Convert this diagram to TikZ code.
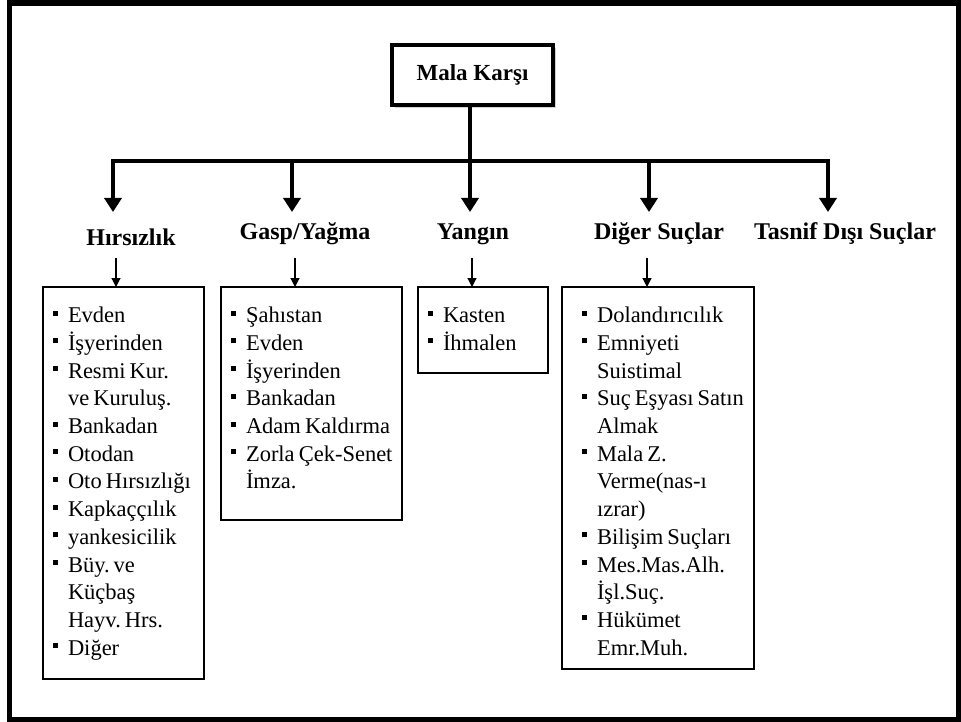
\documentclass[tikz,border=0pt]{standalone}
\usepackage{fontspec}
\setmainfont{Liberation Serif}
\usetikzlibrary{arrows.meta,shadows}

\newlength\bind
\newcommand\bitem[1]{\par\noindent\hspace*{\bind}\makebox[15pt][l]{\rule[7pt]{5pt}{5pt}}\mbox{\spaceskip=0.18em\relax#1}}
\newcommand\bcont[1]{\par\noindent\hspace*{\bind}\hspace*{15pt}\mbox{\spaceskip=0.18em\relax#1}}

\tikzset{
  head/.style={font=\fontsize{24}{28}\selectfont\bfseries, anchor=base, inner sep=0pt},
  listbox/.style={draw, line width=1.3pt, anchor=north west, inner xsep=10pt, inner ysep=0pt,
    outer sep=0pt, text height=8pt, align=left, font=\fontsize{22.5}{27.7}\selectfont\frenchspacing},
  bigarrow/.style={line width=4.5pt, -{Triangle[width=17pt,length=14pt]}},
  smallarrow/.style={line width=1.2pt, -{Triangle[width=9pt,length=9pt]}}
}

\begin{document}
\begin{tikzpicture}[x=1pt,y=-1pt]
\useasboundingbox (0,0) rectangle (961,722);
\draw[line width=5.5pt] (9.5,3) rectangle (958.5,719.5);

\node[draw, fill=white, line width=4pt, minimum width=161pt, minimum height=60pt,
  font=\fontsize{23}{28}\selectfont\bfseries,
  drop shadow={shadow xshift=3pt, shadow yshift=-3pt, fill=black!35}] (root) at (472.5,75) {Mala Karşı};

\coordinate (b1) at (113,161);
\coordinate (b2) at (292,161);
\coordinate (b3) at (470,161);
\coordinate (b4) at (649,161);
\coordinate (b5) at (828,161);
\coordinate (t1) at (113,212);
\coordinate (t2) at (292,212);
\coordinate (t3) at (470,212);
\coordinate (t4) at (649,212);
\coordinate (t5) at (828,212);

\draw[line width=4.5pt] (root.south -| b3) -- (b3);
\draw[bigarrow] (b3) -| (t1);
\draw[bigarrow] (b3) -| (t5);
\draw[bigarrow] (b2) -- (t2);
\draw[bigarrow] (b3) -- (t3);
\draw[bigarrow] (b4) -- (t4);

\node[head] (hirs) at (131,245) {Hırsızlık};
\node[head] (gasp) at (305,240) {Gasp/Yağma};
\node[head] (yang) at (473,240) {Yangın};
\node[head] (diger) at (659,240) {Diğer Suçlar};
\node[head] (tasnif) at (845,240) {Tasnif Dışı Suçlar};

\node[listbox, text width=141pt, text depth=384pt] (hirsl) at (43,287) {%
  \bitem{Evden}\bitem{İşyerinden}\bitem{Resmi Kur.}\bcont{ve Kuruluş.}%
  \bitem{Bankadan}\bitem{Otodan}\bitem{Oto Hırsızlığı}\bitem{Kapkaççılık}%
  \bitem{yankesicilik}\bitem{Büy. ve}\bcont{Küçbaş}\bcont{Hayv. Hrs.}\bitem{Diğer}};
\node[listbox, text width=161pt, text depth=225pt] (gaspl) at (221,287) {%
  \bitem{Şahıstan}\bitem{Evden}\bitem{İşyerinden}\bitem{Bankadan}%
  \bitem{Adam Kaldırma}\bitem{Zorla Çek-Senet}\bcont{İmza.}};
\node[listbox, text width=110pt, text depth=78pt] (yangl) at (418,287) {%
  \bitem{Kasten}\bitem{İhmalen}};
\node[listbox, text width=172pt, text depth=374pt] (digerl) at (562,287) {%
  \setlength\bind{10pt}%
  \bitem{Dolandırıcılık}\bitem{Emniyeti}\bcont{Suistimal}\bitem{Suç Eşyası Satın}%
  \bcont{Almak}\bitem{Mala Z.}\bcont{Verme(nas-ı}\bcont{ızrar)}\bitem{Bilişim Suçları}%
  \bitem{Mes.Mas.Alh.}\bcont{İşl.Suç.}\bitem{Hükümet}\bcont{Emr.Muh.}};

\coordinate (s1) at (116,258);
\coordinate (s2) at (295,258);
\coordinate (s3) at (472,258);
\coordinate (s4) at (647,258);
\draw[smallarrow] (s1) -- (s1 |- hirsl.north);
\draw[smallarrow] (s2) -- (s2 |- gaspl.north);
\draw[smallarrow] (s3) -- (s3 |- yangl.north);
\draw[smallarrow] (s4) -- (s4 |- digerl.north);
\end{tikzpicture}
\end{document}
